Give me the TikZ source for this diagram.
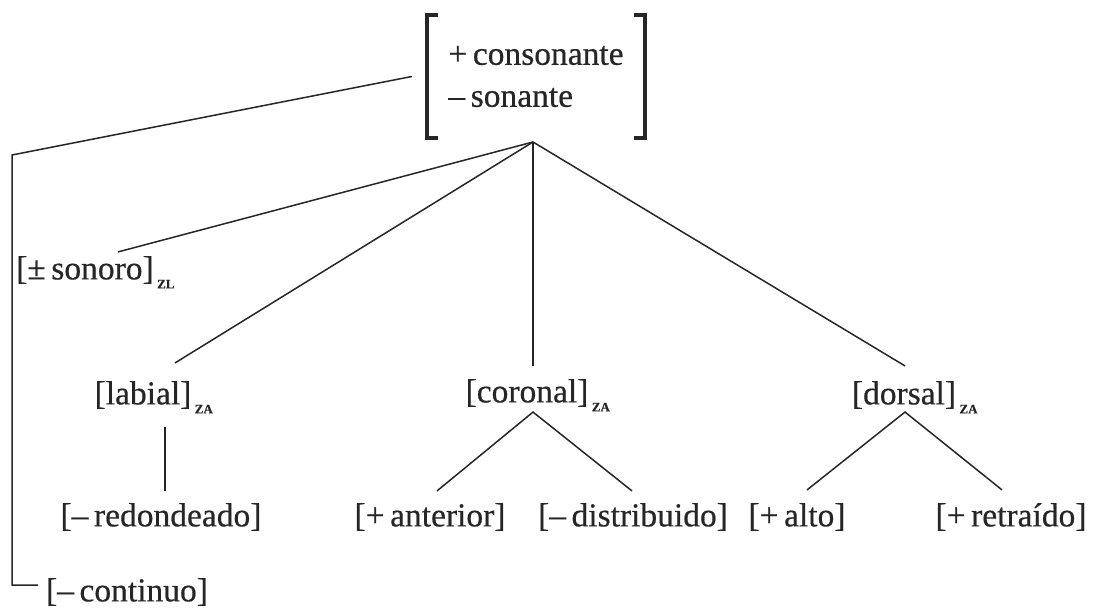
\documentclass[tikz,border=0pt]{standalone}
\usepackage{fontspec}
\setmainfont{Liberation Serif}[FakeBold=0.5]
\usetikzlibrary{calc}
\definecolor{ink}{HTML}{262626}
\begin{document}
\begin{tikzpicture}[x=1pt,y=-1pt,
  lbl/.style={inner sep=0pt, font=\fontsize{33.5}{42}\selectfont, text=ink},
  subs/.style={inner sep=0pt, font=\fontsize{13}{13}\selectfont\bfseries, text=ink, anchor=base west},
  con/.style={draw=ink, line width=1.5pt},
  brk/.style={draw=ink, line width=3.5pt}]
\useasboundingbox (0,0) rectangle (1097,609);
% top feature matrix
\node[lbl, minimum width=218pt, minimum height=123pt, align=left] (top) at (536,76.5)
  {+\,consonante\\--\,sonante};
\draw[brk] ($(top.north west)+(11,0)$) -- (top.north west) -- (top.south west) -- ++(11,0);
\draw[brk] ($(top.north east)+(-11,0)$) -- (top.north east) -- (top.south east) -- ++(-11,0);
\coordinate (apex) at (533,142);
% children
\node[lbl] (sonoro) at (85,270) {[\textpm\,sonoro]};
\node[subs] (zl) at ($(sonoro.base east)+(3,9)$) {ZL};
\node[lbl] (labial) at (143,395) {[labial]};
\node[subs] (za1) at ($(labial.base east)+(3,9)$) {ZA};
\node[lbl] (coronal) at (527,393) {[coronal]};
\node[subs] (za2) at ($(coronal.base east)+(3,9)$) {ZA};
\node[lbl] (dorsal) at (904,395) {[dorsal]};
\node[subs] (za3) at ($(dorsal.base east)+(3,9)$) {ZA};
\node[lbl] (redondeado) at (161,517) {[--\,redondeado]};
\node[lbl] (anterior) at (430,517) {[+\,anterior]};
\node[lbl] (distribuido) at (633,517) {[--\,distribuido]};
\node[lbl] (alto) at (797,517) {[+\,alto]};
\node[lbl] (retraido) at (1011,517) {[+\,retraído]};
\node[lbl] (continuo) at (127,592) {[--\,continuo]};
% connectors
\draw[con] (apex) -- ($(sonoro.north)+(33,-4)$);
\draw[con] (apex) -- ($(labial.north)+(32,-18)$);
\draw[con] (apex) -- ($(apex |- coronal.north)+(0,-13)$);
\draw[con] (apex) -- ($(dorsal.north)+(1,-15)$);
\draw[con] ($(labial.south)+(22,18)$) -- ($(redondeado.north)+(4,-12)$);
\coordinate (capc) at ($(apex |- coronal.south)+(0,5)$);
\draw[con] ($(anterior.north)+(7,-12)$) -- (capc) -- ($(distribuido.north)+(-1,-12)$);
\coordinate (capd) at ($(dorsal.south)+(1,3)$);
\draw[con] ($(alto.north)+(10,-13)$) -- (capd) -- ($(retraido.north)+(-9,-13)$);
\coordinate (corner) at (12,155);
\draw[con] ($(top.west)+(-15,0)$) -- (corner) |- ($(continuo.west)+(-8,-7)$);
\end{tikzpicture}
\end{document}
